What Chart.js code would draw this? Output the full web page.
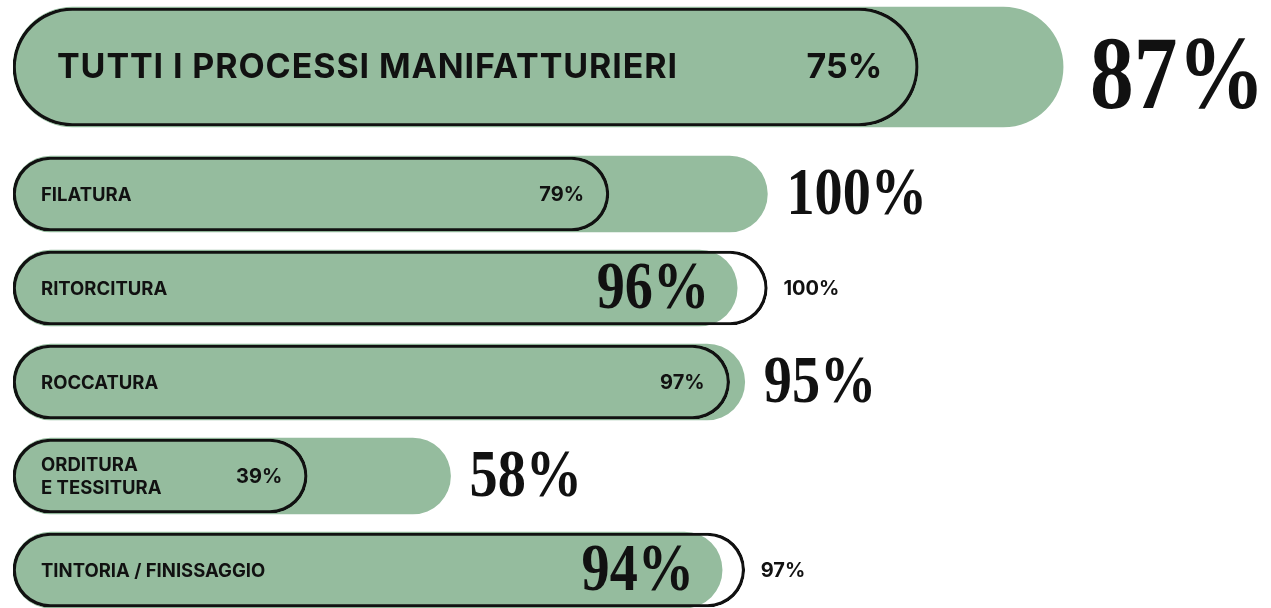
<!DOCTYPE html>
<html lang="it">
<head>
<meta charset="utf-8">
<title>Processi manifatturieri</title>
<script src="https://cdn.jsdelivr.net/npm/chart.js@4.4.1/dist/chart.umd.min.js"></script>
<style>
  html, body { margin: 0; padding: 0; background: #fff; overflow: hidden; }
  .wrap { position: relative; width: 1271px; height: 608px; overflow: hidden; }
  .top { position: absolute; left: 0; top: 0; width: 1271px; height: 134px; }
  .rows { position: absolute; left: 0; top: 147px; width: 1271px; height: 470px; }
</style>
</head>
<body>
<div class="wrap">
  <div class="top"><canvas id="topChart"></canvas></div>
  <div class="rows"><canvas id="rowsChart"></canvas></div>
</div>
<script>
// totale
const totalLabels = ["TUTTI I PROCESSI MANIFATTURIERI"];
const totalGreen = [87];
const totalOutline = [75];
const totalGreenText = ["87%"];
const totalOutlineText = ["75%"];

// singole fasi
const stepLabels = ["FILATURA", "RITORCITURA", "ROCCATURA", ["ORDITURA", "E TESSITURA"], "TINTORIA / FINISSAGGIO"];
const stepGreen = [100, 96, 97, 58, 94];
const stepOutline = [79, 100, 95, 39, 97];
const stepGreenText = ["100%", "96%", "95%", "58%", "94%"];
const stepOutlineText = ["79%", "100%", "97%", "39%", "97%"];

const GREEN = "#95bc9e";
const INK = "#111111";

const drawSerif = function (ctx, text, x, y, size, align) {
  ctx.save();
  ctx.font = `700 ${size}px "Liberation Serif"`;
  ctx.textBaseline = "alphabetic";
  ctx.textAlign = "left";
  const squeeze = 0.84;
  const w = ctx.measureText(text).width * squeeze;
  ctx.translate(align === "right" ? x - w : x, y);
  ctx.scale(squeeze, 1);
  ctx.fillStyle = INK;
  ctx.fillText(text, 0, 0);
  ctx.restore();
};

const drawSans = function (ctx, text, x, y, size, align, spacing) {
  ctx.save();
  ctx.font = `700 ${size}px Inter`;
  ctx.letterSpacing = (spacing || 0) + "px";
  ctx.textBaseline = "middle";
  ctx.textAlign = align;
  ctx.fillStyle = INK;
  ctx.fillText(text, x, y);
  ctx.restore();
};

const barLabels = {
  id: "barLabels",
  afterDatasetsDraw(chart, args, o) {
    const { ctx, chartArea } = chart;
    const greenMeta = chart.getDatasetMeta(0);
    const outlineMeta = chart.getDatasetMeta(1);
    const greens = chart.data.datasets[0].data;
    const outlines = chart.data.datasets[1].data;
    chart.data.labels.forEach((label, i) => {
      const g = greenMeta.data[i];
      const ol = outlineMeta.data[i];
      const y = g.y;
      const lines = [].concat(label);
      const lh = o.nameSize * 1.22;
      lines.forEach((line, k) => {
        drawSans(ctx, line, chartArea.left + o.nameX, y + 1 + (k - (lines.length - 1) / 2) * lh, o.nameSize, "left", o.nameSpacing);
      });
      // the longer bar carries its label outside, the shorter one inside its end
      if (greens[i] >= outlines[i]) {
        drawSerif(ctx, o.greenText[i], g.x + o.bigGap, y + o.bigBase, o.bigSize, "left");
        drawSans(ctx, o.outlineText[i], ol.x - o.smallInset, y + 1, o.smallSize, "right");
      } else {
        drawSerif(ctx, o.greenText[i], g.x - o.bigInset, y + o.bigBase, o.bigSize, "right");
        drawSans(ctx, o.outlineText[i], ol.x + o.smallGap, y + 1, o.smallSize, "left");
      }
    });
  },
};

const makeChart = function (id, labels, greens, outlines, max, thickness, labelOpts) {
  const ctx = document.getElementById(id).getContext("2d");
  return new Chart(ctx, {
    type: "bar",
    data: {
      labels: labels,
      datasets: [
        {
          data: greens,
          backgroundColor: GREEN,
          borderWidth: 0,
          borderRadius: 999,
          borderSkipped: false,
          barThickness: thickness + 2,
          grouped: false,
          order: 2,
        },
        {
          data: outlines,
          backgroundColor: "rgba(0,0,0,0)",
          borderColor: INK,
          borderWidth: 2.5,
          borderRadius: 999,
          borderSkipped: false,
          barThickness: thickness,
          grouped: false,
          order: 1,
        },
      ],
    },
    options: {
      indexAxis: "y",
      responsive: true,
      maintainAspectRatio: false,
      animation: false,
      layout: { padding: { left: 13, right: 51, top: 0, bottom: 0 } },
      scales: {
        x: { display: false, min: 0, max: max },
        y: { display: false },
      },
      plugins: {
        legend: { display: false },
        tooltip: { enabled: false },
        barLabels: labelOpts,
      },
    },
    plugins: [barLabels],
  });
};

makeChart("topChart", totalLabels, totalGreen, totalOutline, 100, 118, {
  nameX: 44,
  nameSize: 34,
  nameSpacing: 0.9,
  smallSize: 34,
  smallInset: 36,
  smallGap: 20,
  bigSize: 104,
  bigBase: 41,
  bigGap: 27,
  bigInset: 30,
  greenText: totalGreenText,
  outlineText: totalOutlineText,
});

makeChart("rowsChart", stepLabels, stepGreen, stepOutline, 160, 74, {
  nameX: 28,
  nameSize: 18.5,
  nameSpacing: 0,
  smallSize: 20,
  smallInset: 25,
  smallGap: 16,
  bigSize: 67,
  bigBase: 20,
  bigGap: 19,
  bigInset: 28,
  greenText: stepGreenText,
  outlineText: stepOutlineText,
});
</script>
</body>
</html>
